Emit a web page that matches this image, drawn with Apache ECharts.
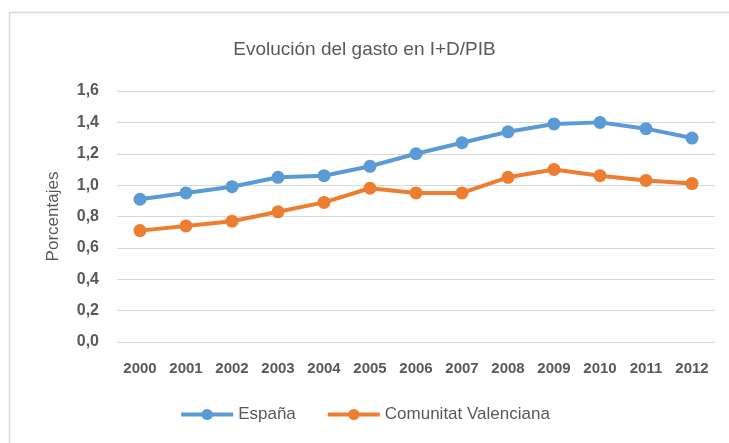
<!DOCTYPE html>
<html>
<head>
<meta charset="utf-8">
<script src="https://cdn.jsdelivr.net/npm/echarts@6/dist/echarts.min.js"></script>
<style>
  html, body { margin: 0; padding: 0; background: #fff; }
  #main { width: 729px; height: 443px; }
</style>
</head>
<body>
<div id="main"></div>
<script>
// datos
var years = ['2000', '2001', '2002', '2003', '2004', '2005', '2006', '2007', '2008', '2009', '2010', '2011', '2012'];
var espana = [0.91, 0.95, 0.99, 1.05, 1.06, 1.12, 1.20, 1.27, 1.34, 1.39, 1.40, 1.36, 1.30];
var valenciana = [0.71, 0.74, 0.77, 0.83, 0.89, 0.98, 0.95, 0.95, 1.05, 1.10, 1.06, 1.03, 1.01];

var chart = echarts.init(document.getElementById('main'));
var font = 'Liberation Sans';

var option = {
  backgroundColor: '#fff',
  animation: false,
  graphic: [{
    type: 'rect',
    shape: { x: 9.5, y: 12.5, width: 740, height: 450 },
    style: { fill: 'none', stroke: '#d9d9d9', lineWidth: 1.5 }
  }],
  title: {
    text: 'Evolución del gasto en I+D/PIB',
    left: 'center',
    top: 35,
    textStyle: { color: '#595959', fontSize: 19, fontWeight: 'normal', fontFamily: font }
  },
  legend: {
    bottom: 15,
    left: 'center',
    itemWidth: 52,
    itemHeight: 14,
    itemGap: 30,
    lineStyle: { width: 4 },
    textStyle: { color: '#595959', fontSize: 17, fontFamily: font },
    data: ['España', 'Comunitat Valenciana']
  },
  grid: { left: 117, right: 14, top: 91, bottom: 101 },
  xAxis: {
    type: 'category',
    data: years,
    boundaryGap: true,
    axisLine: { show: false },
    axisTick: { show: false },
    axisLabel: { color: '#595959', fontSize: 15, fontWeight: 'bold', fontFamily: font, margin: 19 }
  },
  yAxis: {
    type: 'value',
    min: 0,
    max: 1.6,
    interval: 0.2,
    name: 'Porcentajes',
    nameLocation: 'middle',
    nameGap: 55,
    nameTextStyle: { color: '#595959', fontSize: 17, fontFamily: font },
    axisLine: { show: false },
    axisTick: { show: false },
    splitLine: { lineStyle: { color: '#d9d9d9', width: 1 } },
    axisLabel: {
      color: '#595959', fontSize: 16, fontWeight: 'bold', fontFamily: font, margin: 18,
      formatter: function (v) { return v.toFixed(1).replace('.', ','); }
    }
  },
  series: [
    {
      name: 'España',
      type: 'line',
      data: espana,
      color: '#5B9BD5',
      symbol: 'circle',
      symbolSize: 13,
      lineStyle: { width: 4 }
    },
    {
      name: 'Comunitat Valenciana',
      type: 'line',
      data: valenciana,
      color: '#ED7D31',
      symbol: 'circle',
      symbolSize: 13,
      lineStyle: { width: 4 }
    }
  ]
};
chart.setOption(option);
</script>
</body>
</html>
